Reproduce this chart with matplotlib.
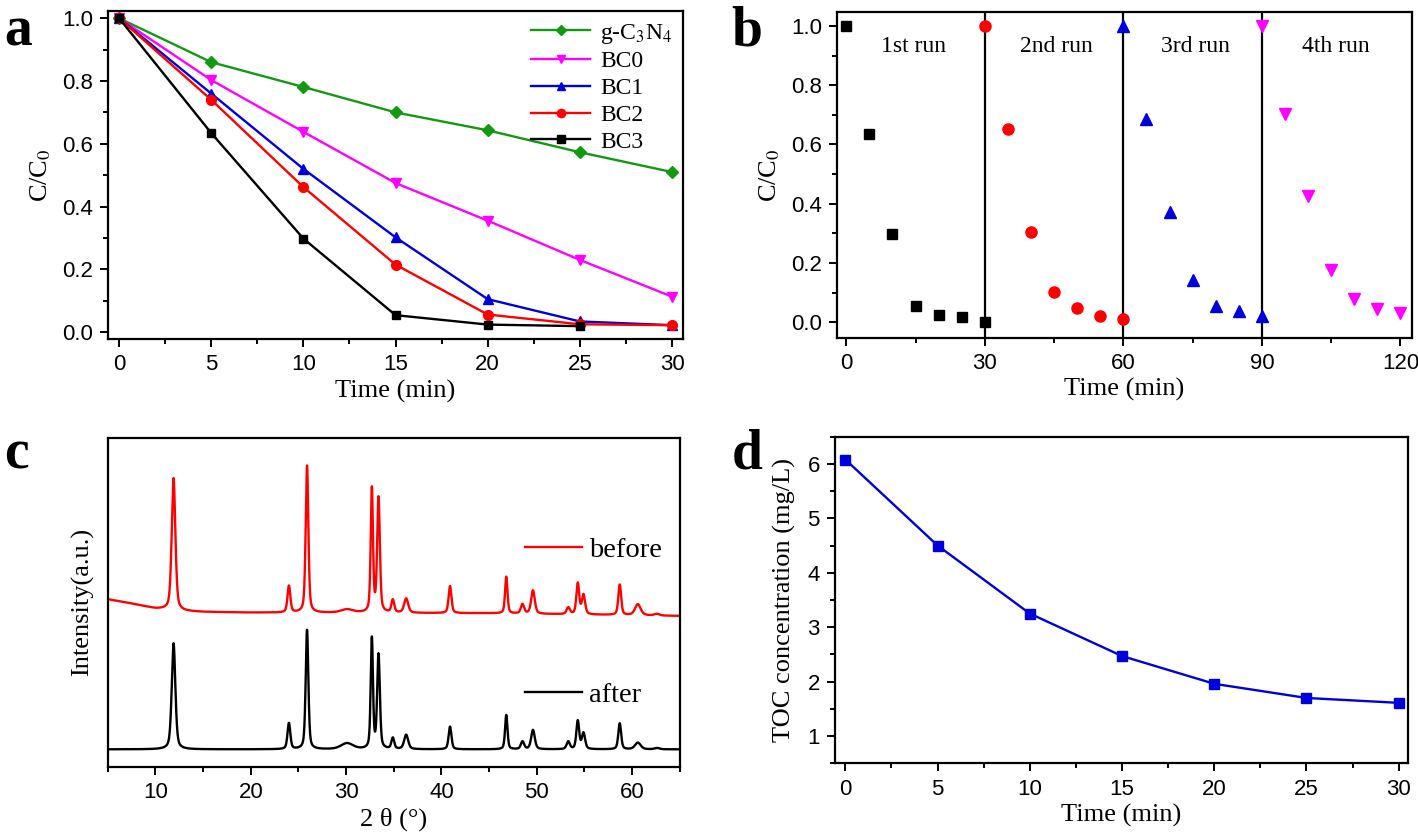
import numpy as np
import matplotlib
matplotlib.use("Agg")
import matplotlib.pyplot as plt
from matplotlib.lines import Line2D
from matplotlib.ticker import MultipleLocator, FormatStrFormatter

plt.rcParams["font.family"] = ["Liberation Sans", "DejaVu Sans"]
plt.rcParams["mathtext.fontset"] = "stix"
SERIF = ["Liberation Serif", "DejaVu Serif"]

# ── (a) photocatalytic degradation ───────────────────────────────────────────
t_a = [0, 5, 10, 15, 20, 25, 30]
gcn = [1.0, 0.860, 0.781, 0.700, 0.643, 0.573, 0.510]
bc0 = [1.0, 0.803, 0.638, 0.475, 0.355, 0.230, 0.113]
bc1 = [1.0, 0.760, 0.520, 0.302, 0.105, 0.034, 0.022]
bc2 = [1.0, 0.740, 0.462, 0.215, 0.056, 0.025, 0.022]
t_bc3 = [0, 5, 10, 15, 20, 25]
bc3 = [1.0, 0.634, 0.298, 0.054, 0.024, 0.019]

# ── (b) recycling runs ───────────────────────────────────────────────────────
t_run1 = [0, 5, 10, 15, 20, 25, 30]
run1 = [1.0, 0.634, 0.298, 0.054, 0.024, 0.019, 0.0]
t_run2 = [30, 35, 40, 45, 50, 55, 60]
run2 = [1.0, 0.652, 0.305, 0.102, 0.047, 0.021, 0.012]
t_run3 = [60, 65, 70, 75, 80, 85, 90]
run3 = [1.0, 0.687, 0.373, 0.144, 0.055, 0.037, 0.020]
t_run4 = [90, 95, 100, 105, 110, 115, 120]
run4 = [1.0, 0.702, 0.427, 0.176, 0.078, 0.044, 0.030]
run_labels = ["1st run", "2nd run", "3rd run", "4th run"]
run_label_x = [14.5, 45.5, 75.5, 106]
run_breaks = [30, 60, 90]

# ── (c) XRD peaks (position, height before, height after, FWHM) ──────────────
peak_pos   = [11.9, 24.0, 25.9, 30.1, 32.7, 33.4, 34.9, 36.3, 40.9, 46.8,
              48.5, 49.6, 53.3, 54.3, 54.9, 58.7, 60.6, 62.6]
peak_before = [396, 80, 441, 10, 371, 343, 38, 43, 81, 110,
               28, 70, 20, 93, 58, 91, 33, 5]
peak_after  = [318, 78, 358, 18, 331, 282, 33, 43, 68, 103,
               23, 58, 23, 85, 48, 78, 20, 4]
peak_fwhm   = [0.45, 0.35, 0.33, 1.5, 0.28, 0.33, 0.35, 0.5, 0.35, 0.3,
               0.4, 0.45, 0.4, 0.35, 0.4, 0.35, 0.7, 0.6]
bg_before_x = [5, 7, 10, 13, 15, 20, 45, 65]
bg_before_y = [40, 30, 12, 4, 2, 0, -2, -10]
offset_before = 410

# ── (d) TOC ──────────────────────────────────────────────────────────────────
t_d = [0, 5, 10, 15, 20, 25, 30]
toc = [6.08, 4.50, 3.25, 2.47, 1.96, 1.70, 1.61]

TICK_FS = 16
LABEL_FS = 19


def style_axes(ax):
    for sp in ax.spines.values():
        sp.set_linewidth(1.6)
    ax.tick_params(which="both", direction="out", top=False, right=False,
                   width=1.4, labelsize=TICK_FS)
    ax.tick_params(which="major", length=6, pad=5)
    ax.tick_params(which="minor", length=3.5)


def profile(x, heights):
    y = np.zeros_like(x)
    for p, h, w in zip(peak_pos, heights, peak_fwhm):
        g = np.exp(-4 * np.log(2) * ((x - p) / w) ** 2)
        l = 1 / (1 + 4 * ((x - p) / w) ** 2)
        y += h * (0.55 * g + 0.45 * l)
    return y


fig = plt.figure(figsize=(14.18, 8.34), dpi=100)

# (a)
ax = fig.add_axes([0.0762, 0.5935, 0.4055, 0.3933])
ms = 7
ax.plot(t_a, gcn, color="#119911", marker="D", ms=6, lw=1.7, label="g-C$_3$N$_4$")
ax.plot(t_a, bc0, color="#ff00ff", marker="v", ms=ms, lw=1.7, label="BC0")
ax.plot(t_a, bc1, color="#0000dd", marker="^", ms=ms, lw=1.7, label="BC1")
ax.plot(t_a, bc2, color="#ff0000", marker="o", ms=ms, lw=1.7, label="BC2")
ax.plot(t_bc3, bc3, color="black", marker="s", ms=6, lw=1.7, label="BC3")
ax.set_xlim(-0.6, 30.6)
ax.set_ylim(-0.022, 1.023)
ax.xaxis.set_major_locator(MultipleLocator(5))
ax.xaxis.set_minor_locator(MultipleLocator(2.5))
ax.yaxis.set_major_locator(MultipleLocator(0.2))
ax.yaxis.set_minor_locator(MultipleLocator(0.1))
ax.yaxis.set_major_formatter(FormatStrFormatter("%.1f"))
style_axes(ax)
ax.set_xlabel("Time (min)", family=SERIF, fontsize=LABEL_FS, labelpad=3)
ax.set_ylabel("C/C$_0$", family=SERIF, fontsize=LABEL_FS, labelpad=6)
ax.legend(loc="upper right", frameon=False,
          prop={"family": SERIF, "size": 17},
          handlelength=2.5, handletextpad=0.4, labelspacing=0.22,
          borderaxespad=0.05, markerscale=0.85)

# (b)
ax = fig.add_axes([0.5903, 0.5951, 0.4055, 0.3909])
ax.plot(t_run1, run1, "s", color="black", ms=7.5)
ax.plot(t_run2, run2, "o", color="#ff0000", ms=8)
ax.plot(t_run3, run3, "^", color="#0000dd", ms=8.5)
ax.plot(t_run4, run4, "v", color="#ff00ff", ms=8.5)
for xb in run_breaks:
    ax.axvline(xb, color="black", lw=1.6, zorder=0)
for lab, xl in zip(run_labels, run_label_x):
    ax.text(xl, 0.93, lab, family=SERIF, fontsize=17, ha="center", va="center")
ax.set_xlim(-2, 122.5)
ax.set_ylim(-0.052, 1.048)
ax.xaxis.set_major_locator(MultipleLocator(30))
ax.xaxis.set_minor_locator(MultipleLocator(15))
ax.yaxis.set_major_locator(MultipleLocator(0.2))
ax.yaxis.set_minor_locator(MultipleLocator(0.1))
ax.yaxis.set_major_formatter(FormatStrFormatter("%.1f"))
style_axes(ax)
ax.set_xlabel("Time (min)", family=SERIF, fontsize=LABEL_FS, labelpad=3)
ax.set_ylabel("C/C$_0$", family=SERIF, fontsize=LABEL_FS, labelpad=6)

# (c)
ax = fig.add_axes([0.076, 0.0807, 0.4034, 0.394])
two_theta = np.linspace(5, 65, 4001)
y_before = offset_before + np.interp(two_theta, bg_before_x, bg_before_y) + profile(two_theta, peak_before)
y_after = profile(two_theta, peak_after)
ax.plot(two_theta, y_before, color="#ff0000", lw=1.7)
ax.plot(two_theta, y_after, color="black", lw=1.7)
ax.set_xlim(5, 65)
ax.set_ylim(-52, 933)
ax.xaxis.set_major_locator(MultipleLocator(10))
ax.xaxis.set_minor_locator(MultipleLocator(5))
ax.set_yticks([])
style_axes(ax)
ax.set_xlabel("2 θ (°)", family=SERIF, fontsize=LABEL_FS, labelpad=3)
ax.set_ylabel("Intensity(a.u.)", family=SERIF, fontsize=LABEL_FS, labelpad=10)
leg_kw = dict(loc="center left", frameon=False, prop={"family": SERIF, "size": 20.5},
              handlelength=2.0, handletextpad=0.25, borderaxespad=0, borderpad=0)
leg1 = ax.legend(handles=[Line2D([], [], color="#ff0000", lw=1.7)], labels=["before"],
                 bbox_to_anchor=(0.73, 0.66), **leg_kw)
ax.add_artist(leg1)
ax.legend(handles=[Line2D([], [], color="black", lw=1.7)], labels=["after"],
          bbox_to_anchor=(0.73, 0.218), **leg_kw)

# (d)
ax = fig.add_axes([0.5889, 0.0848, 0.404, 0.3916])
ax.plot(t_d, toc, color="#0000dd", marker="s", ms=6.5, lw=1.7)
ax.set_xlim(-0.56, 30.5)
ax.set_ylim(0.5, 6.5)
ax.xaxis.set_major_locator(MultipleLocator(5))
ax.xaxis.set_minor_locator(MultipleLocator(2.5))
ax.yaxis.set_major_locator(MultipleLocator(1))
ax.yaxis.set_minor_locator(MultipleLocator(0.5))
style_axes(ax)
ax.set_xlabel("Time (min)", family=SERIF, fontsize=LABEL_FS, labelpad=3)
ax.set_ylabel("TOC concentration (mg/L)", family=SERIF, fontsize=LABEL_FS, labelpad=8)

# panel letters
for lab, x, y in [("a", 0.003, 0.962), ("b", 0.516, 0.962),
                  ("c", 0.003, 0.455), ("d", 0.516, 0.455)]:
    fig.text(x, y, lab, family=SERIF, fontsize=40, fontweight="bold",
             va="center", ha="left")

fig.savefig("out.png", dpi=100)
